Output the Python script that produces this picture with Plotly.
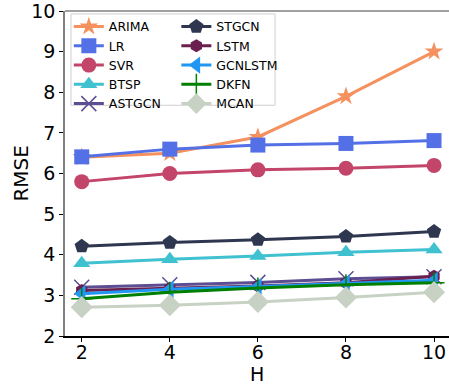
import plotly.graph_objects as go

H = [2, 4, 6, 8, 10]
names = ["ARIMA", "LR", "SVR", "BTSP", "ASTGCN", "STGCN", "LSTM", "GCNLSTM", "DKFN", "MCAN"]
ARIMA = [6.40, 6.50, 6.90, 7.90, 9.00]
LR = [6.41, 6.60, 6.70, 6.74, 6.81]
SVR = [5.80, 6.00, 6.09, 6.13, 6.20]
BTSP = [3.79, 3.89, 3.97, 4.06, 4.13]
ASTGCN = [3.20, 3.26, 3.32, 3.41, 3.46]
STGCN = [4.21, 4.30, 4.37, 4.45, 4.57]
LSTM = [3.12, 3.17, 3.23, 3.31, 3.47]
GCNLSTM = [3.04, 3.15, 3.22, 3.30, 3.37]
DKFN = [2.92, 3.08, 3.18, 3.26, 3.31]
MCAN = [2.71, 2.76, 2.84, 2.95, 3.08]
values = [ARIMA, LR, SVR, BTSP, ASTGCN, STGCN, LSTM, GCNLSTM, DKFN, MCAN]
y_ticks = [2, 3, 4, 5, 6, 7, 8, 9, 10]

colors = ["#F4915E", "#5470E6", "#C4456A", "#3FC1D0", "#5D4E93",
          "#2E3650", "#6B1F4F", "#2196F3", "#008000", "#C8D2C4"]
symbols = ["star", "square", "circle", "triangle-up", "x-thin",
           "pentagon", "hexagon", "triangle-left", "cross-thin", "diamond"]
sizes = [14, 15, 15, 15, 15, 15, 13, 15, 15, 17]
legends = ["legend"] * 5 + ["legend2"] * 5

fig = go.Figure()
for n, v, c, s, sz, lg in zip(names, values, colors, symbols, sizes, legends):
    thin = s.endswith("-thin")
    fig.add_trace(go.Scatter(
        x=H, y=v, name=n, mode="lines+markers",
        line=dict(color=c, width=3),
        marker=dict(symbol=s, size=sz, color=c,
                    line=dict(width=1.5 if thin else 0, color=c)),
        legend=lg,
    ))

fig.add_shape(type="line", xref="paper", yref="paper", x0=0, x1=1, y0=1, y1=1,
              line=dict(color="#808080", width=1.5))
# legend frame
fig.add_shape(type="rect", xref="paper", yref="paper",
              x0=0.0156, x1=0.547, y0=0.71, y1=0.991,
              line=dict(color="#D0D0D0", width=1), fillcolor="rgba(255,255,255,0.8)",
              layer="above")

fig.add_annotation(text="H", xref="paper", yref="paper", x=0.5, y=-0.118,
                   xanchor="center", yanchor="middle", showarrow=False,
                   font=dict(size=19, family="DejaVu Sans", color="black"))
fig.add_annotation(text="RMSE", xref="paper", yref="paper", x=-0.117, y=0.5,
                   xanchor="center", yanchor="middle", showarrow=False, textangle=-90,
                   font=dict(size=20, family="DejaVu Sans", color="black"))

leg_common = dict(orientation="v", yanchor="top", xanchor="left",
                  borderwidth=0, bgcolor="rgba(0,0,0,0)",
                  font=dict(size=12.5, family="DejaVu Sans"), itemwidth=30)

fig.update_layout(
    width=449, height=388,
    margin=dict(l=65, r=0, t=11, b=52),
    plot_bgcolor="white", paper_bgcolor="white",
    font=dict(family="DejaVu Sans", color="black"),
    xaxis=dict(range=[1.62, 10.34], tickvals=H, ticks="outside", ticklen=4,
               tickcolor="black", automargin=False, ticklabelstandoff=-6,
               showgrid=False, zeroline=False, showline=True, linecolor="black",
               linewidth=1.5, tickfont=dict(size=19)),
    yaxis=dict(range=[2, 10.0001], tickvals=y_ticks, ticks="outside", ticklen=4,
               tickcolor="black", ticklabeloverflow="allow", automargin=False,
               showgrid=False, zeroline=False, showline=True, linecolor="#808080",
               linewidth=1.5, tickfont=dict(size=19)),
    legend=dict(x=0.01, y=0.997, **leg_common),
    legend2=dict(x=0.29, y=0.997, **leg_common),
    showlegend=True,
)

fig.write_html("out.html")
